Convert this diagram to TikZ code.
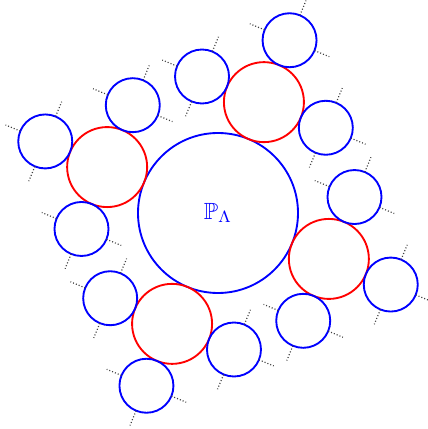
\documentclass[tikz,border=0pt]{standalone}
\usepackage{amsmath, amssymb}
\usepackage{xcolor}
\usepackage{tikz}

\begin{document}
\begin{tikzpicture}[x=0.015cm, y=0.015cm,
  rootdisc/.style={draw=blue, thick, circle, inner sep=0pt, minimum size=2.4cm, text=blue},
  reddisc/.style={thick, red},
  leafdisc/.style={thick, blue},
  stub/.style={line width=0.5pt, dash pattern=on 0.45pt off 0.85pt, black!75}]
  \useasboundingbox (-218,-216) rectangle (209,213);
  % Root disc
  \node[rootdisc] (root) at (0,0) {$\mathbb{P}_\Lambda$};
  % First generation and its children
  \foreach \a in {67.5,157.5,247.5,337.5} {
    \draw[reddisc] (\a:120) circle (40);
    \foreach \b in {-90,0,90} {
      \begin{scope}[shift={(\a:120)}, shift={(\a+\b:67)}]
        \draw[leafdisc] (0,0) circle (27);
        % Continuation stubs
        \foreach \c in {-90,0,90}
          \draw[stub] (\a+\b+\c:27) -- (\a+\b+\c:43);
      \end{scope}
    }
  }
\end{tikzpicture}
\end{document}
